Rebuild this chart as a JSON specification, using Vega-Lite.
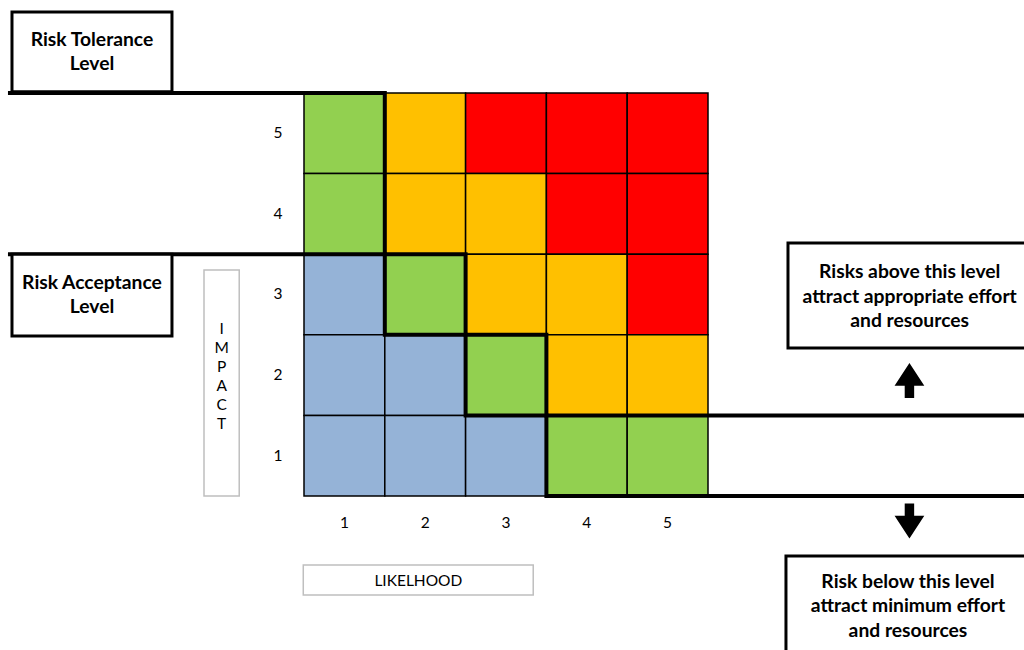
{
  "$schema": "https://vega.github.io/schema/vega-lite/v6.json",
  "width": 1024,
  "height": 650,
  "autosize": {"type": "fit", "contains": "padding"},
  "padding": 0,
  "background": "white",
  "config": {"view": {"stroke": null}, "axis": {"disable": true}},
  "datasets": {
    "cells": [
      {"likelihood": 1, "impact": 5, "level": "Tolerable"},
      {"likelihood": 2, "impact": 5, "level": "Moderate"},
      {"likelihood": 3, "impact": 5, "level": "High"},
      {"likelihood": 4, "impact": 5, "level": "High"},
      {"likelihood": 5, "impact": 5, "level": "High"},
      {"likelihood": 1, "impact": 4, "level": "Tolerable"},
      {"likelihood": 2, "impact": 4, "level": "Moderate"},
      {"likelihood": 3, "impact": 4, "level": "Moderate"},
      {"likelihood": 4, "impact": 4, "level": "High"},
      {"likelihood": 5, "impact": 4, "level": "High"},
      {"likelihood": 1, "impact": 3, "level": "Acceptable"},
      {"likelihood": 2, "impact": 3, "level": "Tolerable"},
      {"likelihood": 3, "impact": 3, "level": "Moderate"},
      {"likelihood": 4, "impact": 3, "level": "Moderate"},
      {"likelihood": 5, "impact": 3, "level": "High"},
      {"likelihood": 1, "impact": 2, "level": "Acceptable"},
      {"likelihood": 2, "impact": 2, "level": "Acceptable"},
      {"likelihood": 3, "impact": 2, "level": "Tolerable"},
      {"likelihood": 4, "impact": 2, "level": "Moderate"},
      {"likelihood": 5, "impact": 2, "level": "Moderate"},
      {"likelihood": 1, "impact": 1, "level": "Acceptable"},
      {"likelihood": 2, "impact": 1, "level": "Acceptable"},
      {"likelihood": 3, "impact": 1, "level": "Acceptable"},
      {"likelihood": 4, "impact": 1, "level": "Tolerable"},
      {"likelihood": 5, "impact": 1, "level": "Tolerable"}
    ],
    "thresholds": [
      {"line": "Risk Tolerance Level", "step": 0, "likelihood": -3.139, "impact": 5.5},
      {"line": "Risk Tolerance Level", "step": 1, "likelihood": 1.5, "impact": 5.5},
      {"line": "Risk Tolerance Level", "step": 2, "likelihood": 1.5, "impact": 3.5},
      {"line": "Risk Tolerance Level", "step": 3, "likelihood": 2.5, "impact": 3.5},
      {"line": "Risk Tolerance Level", "step": 4, "likelihood": 2.5, "impact": 2.5},
      {"line": "Risk Tolerance Level", "step": 5, "likelihood": 3.5, "impact": 2.5},
      {"line": "Risk Tolerance Level", "step": 6, "likelihood": 3.5, "impact": 1.5},
      {"line": "Risk Tolerance Level", "step": 7, "likelihood": 9.6, "impact": 1.5},
      {"line": "Risk Acceptance Level", "step": 0, "likelihood": -3.139, "impact": 3.5},
      {"line": "Risk Acceptance Level", "step": 1, "likelihood": 1.5, "impact": 3.5},
      {"line": "Risk Acceptance Level", "step": 2, "likelihood": 1.5, "impact": 2.5},
      {"line": "Risk Acceptance Level", "step": 3, "likelihood": 2.5, "impact": 2.5},
      {"line": "Risk Acceptance Level", "step": 4, "likelihood": 2.5, "impact": 1.5},
      {"line": "Risk Acceptance Level", "step": 5, "likelihood": 3.5, "impact": 1.5},
      {"line": "Risk Acceptance Level", "step": 6, "likelihood": 3.5, "impact": 0.5},
      {"line": "Risk Acceptance Level", "step": 7, "likelihood": 9.6, "impact": 0.5}
    ],
    "ticks": [{"v": 1}, {"v": 2}, {"v": 3}, {"v": 4}, {"v": 5}]
  },
  "data": {"values": [{}]},
  "layer": [
    {
      "data": {"name": "cells"},
      "mark": {"type": "rect", "width": 80.8, "height": 80.6, "stroke": "black", "strokeWidth": 1.5},
      "encoding": {
        "x": {"field": "likelihood", "type": "quantitative", "axis": null, "scale": {"domain": [-3.2624, 9.4109], "nice": false, "zero": false}},
        "y": {"field": "impact", "type": "quantitative", "axis": null, "scale": {"domain": [-1.4107, 6.6538], "nice": false, "zero": false}},
        "color": {"field": "level", "type": "nominal", "legend": null, "scale": {"domain": ["Acceptable", "Tolerable", "Moderate", "High"], "range": ["#95B3D7", "#92D050", "#FFC000", "#FF0000"]}}
      }
    },
    {
      "data": {"name": "thresholds"},
      "mark": {"type": "line", "color": "black", "strokeWidth": 4, "clip": true, "strokeCap": "square"},
      "encoding": {
        "x": {"field": "likelihood", "type": "quantitative"},
        "y": {"field": "impact", "type": "quantitative"},
        "detail": {"field": "line"},
        "order": {"field": "step", "type": "quantitative"}
      }
    },
    {
      "mark": {"type": "rect", "fill": "white", "stroke": "black", "strokeWidth": 3},
      "encoding": {
        "x": {"datum": -3.114, "type": "quantitative"}, "x2": {"datum": -1.134},
        "y": {"datum": 6.505, "type": "quantitative"}, "y2": {"datum": 5.515}
      }
    },
    {
      "mark": {"type": "rect", "fill": "white", "stroke": "black", "strokeWidth": 3},
      "encoding": {
        "x": {"datum": -3.114, "type": "quantitative"}, "x2": {"datum": -1.134},
        "y": {"datum": 3.5, "type": "quantitative"}, "y2": {"datum": 2.485}
      }
    },
    {
      "mark": {"type": "rect", "fill": "white", "stroke": "black", "strokeWidth": 3, "clip": true},
      "encoding": {
        "x": {"datum": 6.49, "type": "quantitative"}, "x2": {"datum": 9.7},
        "y": {"datum": 3.639, "type": "quantitative"}, "y2": {"datum": 2.336}
      }
    },
    {
      "mark": {"type": "rect", "fill": "white", "stroke": "black", "strokeWidth": 3, "clip": true},
      "encoding": {
        "x": {"datum": 6.465, "type": "quantitative"}, "x2": {"datum": 9.7},
        "y": {"datum": -0.244, "type": "quantitative"}, "y2": {"datum": -1.7}
      }
    },
    {
      "mark": {"type": "rect", "fill": "white", "stroke": "#BFBFBF", "strokeWidth": 1.5},
      "encoding": {
        "x": {"datum": -0.7376, "type": "quantitative"}, "x2": {"datum": -0.3016},
        "y": {"datum": 3.304, "type": "quantitative"}, "y2": {"datum": 0.5}
      }
    },
    {
      "mark": {"type": "rect", "fill": "white", "stroke": "#BFBFBF", "strokeWidth": 1.5},
      "encoding": {
        "x": {"datum": 0.491, "type": "quantitative"}, "x2": {"datum": 3.337},
        "y": {"datum": -0.356, "type": "quantitative"}, "y2": {"datum": -0.728}
      }
    },
    {
      "mark": {"type": "text", "text": ["Risk Tolerance", "Level"], "font": "Lato", "fontWeight": "bold", "fontSize": 19.3, "lineHeight": 24, "align": "center", "baseline": "middle", "color": "black"},
      "encoding": {"x": {"datum": -2.124, "type": "quantitative"}, "y": {"datum": 6.158, "type": "quantitative"}}
    },
    {
      "mark": {"type": "text", "text": ["Risk Acceptance", "Level"], "font": "Lato", "fontWeight": "bold", "fontSize": 19.3, "lineHeight": 24, "align": "center", "baseline": "middle", "color": "black"},
      "encoding": {"x": {"datum": -2.124, "type": "quantitative"}, "y": {"datum": 3.143, "type": "quantitative"}}
    },
    {
      "mark": {"type": "text", "text": ["Risks above this level", "attract appropriate effort", "and resources"], "font": "Lato", "fontWeight": "bold", "fontSize": 19.3, "lineHeight": 24.5, "align": "center", "baseline": "middle", "color": "black"},
      "encoding": {"x": {"datum": 7.996, "type": "quantitative"}, "y": {"datum": 3.279, "type": "quantitative"}}
    },
    {
      "mark": {"type": "text", "text": ["Risk below this level", "attract minimum effort", "and resources"], "font": "Lato", "fontWeight": "bold", "fontSize": 19.3, "lineHeight": 24.5, "align": "center", "baseline": "middle", "color": "black"},
      "encoding": {"x": {"datum": 7.975, "type": "quantitative"}, "y": {"datum": -0.567, "type": "quantitative"}}
    },
    {
      "mark": {"type": "text", "text": ["I", "M", "P", "A", "C", "T"], "font": "Lato", "fontSize": 15.5, "lineHeight": 19, "align": "center", "baseline": "middle", "color": "black"},
      "encoding": {"x": {"datum": -0.5186, "type": "quantitative"}, "y": {"datum": 2.572, "type": "quantitative"}}
    },
    {
      "mark": {"type": "text", "text": "LIKELHOOD", "font": "Lato", "fontSize": 15.5, "align": "center", "baseline": "middle", "color": "black"},
      "encoding": {"x": {"datum": 1.915, "type": "quantitative"}, "y": {"datum": -0.551, "type": "quantitative"}}
    },
    {
      "data": {"name": "ticks"},
      "mark": {"type": "text", "font": "Lato", "fontSize": 15.5, "align": "center", "baseline": "middle", "color": "black"},
      "encoding": {"x": {"field": "v", "type": "quantitative"}, "y": {"datum": 0.161, "type": "quantitative"}, "text": {"field": "v", "type": "quantitative"}}
    },
    {
      "data": {"name": "ticks"},
      "mark": {"type": "text", "font": "Lato", "fontSize": 15.5, "align": "center", "baseline": "middle", "color": "black"},
      "encoding": {"y": {"field": "v", "type": "quantitative"}, "x": {"datum": 0.178, "type": "quantitative"}, "text": {"field": "v", "type": "quantitative"}}
    },
    {
      "mark": {"type": "point", "shape": "M0,-1L0.85,0.3L0.27,0.3L0.27,1L-0.27,1L-0.27,0.3L-0.85,0.3Z", "size": 1225, "filled": true, "opacity": 1, "color": "black", "strokeWidth": 0},
      "encoding": {"x": {"datum": 7.993, "type": "quantitative"}, "y": {"datum": 1.933, "type": "quantitative"}}
    },
    {
      "mark": {"type": "point", "shape": "M0,1L0.85,-0.3L0.27,-0.3L0.27,-1L-0.27,-1L-0.27,-0.3L-0.85,-0.3Z", "size": 1225, "filled": true, "opacity": 1, "color": "black", "strokeWidth": 0},
      "encoding": {"x": {"datum": 7.993, "type": "quantitative"}, "y": {"datum": 0.19, "type": "quantitative"}}
    }
  ]
}
